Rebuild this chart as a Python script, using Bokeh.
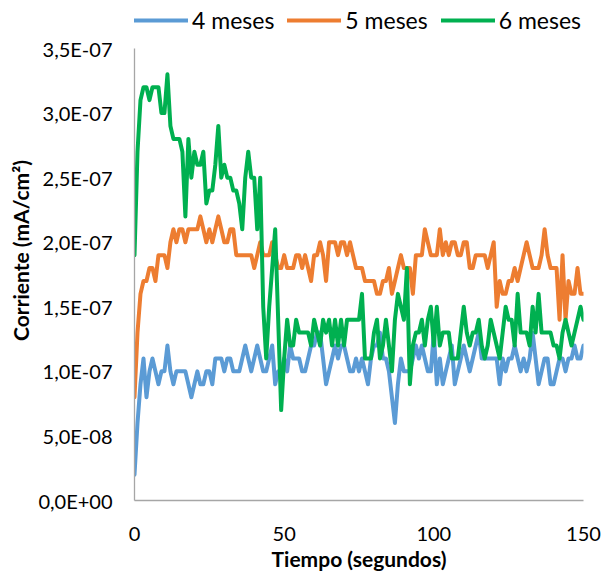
from bokeh.plotting import figure
from bokeh.models import Range1d, Legend, LegendItem, FixedTicker, CustomJSTickFormatter
from bokeh.embed import file_html
from bokeh.resources import INLINE

# Time in seconds
t = list(range(0, 151))

# Current values in units of 1E-08 mA/cm2
meses4 = [2, 6, 9, 11, 8, 10, 11, 10, 9, 10, 10, 12, 10, 9, 10, 10, 10, 10, 9, 8,
          9, 10, 9, 9, 10, 10, 9, 11, 11, 11, 10, 11, 11, 10, 10, 10, 11, 12, 11, 10,
          11, 12, 11, 10, 10, 11, 12, 9, 10, 10, 11, 10, 12, 11, 11, 11, 10, 10, 11, 12,
          12, 13, 13, 11, 9, 10, 11, 12, 11, 12, 12, 11, 10, 10, 11, 10, 11, 10, 9, 11,
          12, 12, 13, 11, 11, 10, 8, 6, 9, 11, 10, 10, 10, 11, 12, 11, 12, 11, 10, 10,
          13, 9, 11, 9, 10, 11, 12, 9, 10, 11, 12, 11, 10, 11, 12, 13, 11, 11, 11, 11,
          11, 11, 9, 11, 10, 11, 11, 12, 11, 10, 11, 10, 11, 13, 11, 9, 10, 11, 11, 9,
          9, 10, 11, 11, 10, 11, 11, 12, 11, 11, 12]
meses5 = [8, 13, 16, 17, 17, 18, 18, 17, 19, 19, 19, 18, 20, 21, 20, 21, 21, 20, 21, 21,
          21, 21, 22, 21, 20, 21, 20, 21, 22, 21, 20, 20, 21, 21, 19, 19, 19, 19, 19, 19,
          18, 19, 20, 19, 19, 19, 20, 19, 18, 18, 19, 18, 18, 18, 19, 19, 18, 19, 18, 17,
          19, 19, 20, 19, 17, 20, 20, 20, 19, 20, 20, 19, 20, 19, 18, 18, 18, 17, 17, 17,
          17, 16, 16, 17, 17, 18, 16, 17, 18, 19, 18, 18, 18, 16, 19, 19, 19, 21, 20, 19,
          19, 19, 21, 19, 20, 19, 20, 20, 19, 19, 20, 20, 18, 18, 19, 19, 19, 19, 18, 19,
          20, 15, 17, 16, 16, 17, 17, 18, 17, 18, 19, 20, 19, 18, 18, 18, 19, 21, 19, 18,
          18, 18, 14, 19, 14, 17, 16, 16, 18, 16, 16]
meses6 = [19, 27, 31, 32, 32, 31, 32, 32, 32, 30, 30, 33, 29, 28, 28, 28, 27, 22, 28, 25,
          27, 26, 26, 27, 23, 24, 24, 26, 29, 25, 26, 25, 25, 24, 24, 23, 21, 25, 27, 25,
          25, 21, 25, 15, 11, 15, 18, 21, 14, 7, 11, 14, 12, 12, 14, 13, 13, 13, 13, 12,
          14, 13, 12, 14, 13, 14, 12, 14, 12, 14, 12, 14, 14, 14, 14, 14, 16, 11, 11, 11,
          13, 14, 11, 12, 14, 12, 10, 14, 16, 15, 14, 18, 9, 12, 13, 13, 14, 12, 14, 15,
          12, 15, 12, 13, 13, 13, 11, 11, 11, 13, 15, 13, 12, 13, 13, 14, 12, 11, 12, 14,
          13, 12, 11, 13, 15, 14, 14, 12, 16, 13, 13, 13, 12, 15, 13, 16, 13, 13, 13, 13,
          12, 12, 11, 13, 14, 13, 12, 13, 14, 15, 14]

series_names = ["4 meses", "5 meses", "6 meses"]
series_values = [meses4, meses5, meses6]
colors = ["#5B9BD5", "#ED7D31", "#00B050"]
y_ticks = [0, 5e-8, 1e-7, 1.5e-7, 2e-7, 2.5e-7, 3e-7, 3.5e-7]
x_ticks = [0, 50, 100, 150]

FONT = "Lato"
LW = 4
Y_MAX = 3.5e-7
# frame extends above the axis top to leave room for the legend strip
FRAME_H = 500
AXIS_H = 452
y_top = Y_MAX * FRAME_H / AXIS_H

p = figure(width=606, height=576, output_backend="svg", toolbar_location=None,
           x_range=Range1d(0, 150), y_range=Range1d(0, y_top),
           min_border_left=134, min_border_right=23, min_border_top=0,
           min_border_bottom=76)
p.outline_line_color = None
p.grid.visible = False

renderers = []
for name, vals, c in zip(series_names, series_values, colors):
    r = p.line(t, [v * 1e-8 for v in vals], line_color=c, line_width=LW,
               line_join="round", line_cap="round")
    renderers.append((name, r))

for ax in (p.xaxis[0], p.yaxis[0]):
    ax.axis_line_color = "#A6A6A6"
    ax.axis_line_width = 1.3
    ax.major_tick_line_color = None
    ax.minor_tick_line_color = None
    ax.major_tick_in = 0
    ax.major_tick_out = 0
    ax.major_label_text_font = FONT
    ax.major_label_text_font_size = "20px"
    ax.major_label_text_color = "#000000"
    ax.axis_label_text_font = FONT
    ax.axis_label_text_font_size = "21px"
    ax.axis_label_text_font_style = "bold"
    ax.axis_label_text_color = "#000000"

p.yaxis.bounds = (0, Y_MAX)
p.xaxis.ticker = FixedTicker(ticks=x_ticks)
p.yaxis.ticker = FixedTicker(ticks=y_ticks)
p.yaxis.formatter = CustomJSTickFormatter(code="""
    if (tick === 0) { return "0,0E+00"; }
    const e = Math.floor(Math.log10(Math.abs(tick)) + 1e-9);
    const m = tick / Math.pow(10, e);
    const es = (e < 0 ? "-" : "+") + String(Math.abs(e)).padStart(2, "0");
    return m.toFixed(1).replace(".", ",") + "E" + es;
""")
p.xaxis.axis_label = "Tiempo (segundos)"
p.yaxis.axis_label = "Corriente (mA/cm²)"
p.xaxis.major_label_standoff = 26
p.yaxis.major_label_standoff = 22
p.xaxis.axis_label_standoff = 2
p.yaxis.axis_label_standoff = 2

legend = Legend(items=[LegendItem(label=n, renderers=[r]) for n, r in renderers],
                orientation="horizontal", location=(0, 466))
legend.glyph_width = 54
legend.glyph_height = 22
legend.label_height = 22
legend.label_standoff = 4
legend.spacing = 13
legend.padding = 0
legend.margin = 0
legend.border_line_color = None
legend.background_fill_alpha = 0
legend.label_text_font = FONT
legend.label_text_font_size = "23px"
legend.label_text_color = "#000000"
p.add_layout(legend, "center")

open("out.html", "w").write(file_html(p, INLINE))
